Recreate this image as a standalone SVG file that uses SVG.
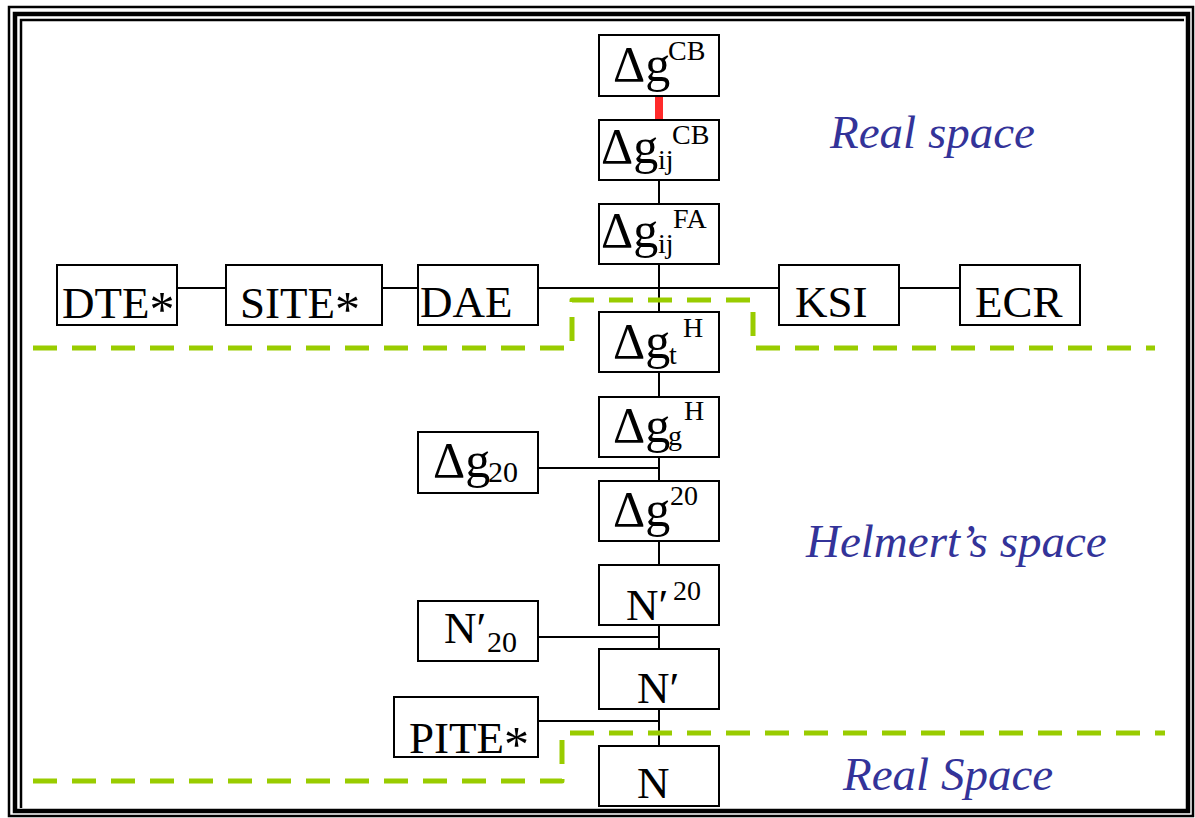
<svg xmlns="http://www.w3.org/2000/svg" width="1195" height="818" viewBox="0 0 1195 818">
<style>
.box{fill:#fff;stroke:#000;stroke-width:2}
.t{font-family:"Liberation Serif","Times New Roman",serif;font-size:45px;fill:#000}
.d{font-size:50px}
.s{font-size:28px}
.a{font-size:50px}
.c{stroke:#000;stroke-width:2;fill:none}
.g{stroke:#99cc00;stroke-width:5;fill:none;stroke-dasharray:24 15;stroke-linejoin:round}
.lab{font-family:"Liberation Serif","Times New Roman",serif;font-style:italic;font-size:47px;fill:#333399}
</style>
<rect width="1195" height="818" fill="#fff"/>
<g id="frame" fill="none" stroke="#000">
<rect x="9" y="7" width="1184" height="809" stroke-width="2.5"/>
<rect x="15" y="14" width="1173" height="797" stroke-width="4.5"/>
<path d="M21,808 V20 H1184" stroke-width="2.5"/>
</g>
<g id="connectors">
<rect x="655" y="96" width="8" height="24" fill="#ff2a2a"/>
<path class="c" d="M659,180 V204 M659,264 V312 M659,372 V397 M659,457 V481 M659,541 V565 M659,625 V649 M659,709 V746"/>
<path class="c" d="M177,288 H226 M382,288 H418 M538,288 H779 M899,288 H960"/>
<path class="c" d="M538,468 H659 M538,637 H659 M538,721 H659"/>
</g>
<g id="regions">
<path class="g" d="M33,348 H572 V300 H753 V348 H1155"/>
<path class="g" d="M33,781 H562 V733 H1165"/>
</g>
<g id="n-dgcb"><rect class="box" x="599" y="35" width="120" height="61"/><text class="t" x="613" y="81"><tspan class="d">Δg</tspan><tspan class="s" x="668" y="60">CB</tspan></text></g>
<g id="n-dgijcb"><rect class="box" x="599" y="120" width="120" height="60"/><text class="t" x="601" y="163"><tspan class="d">Δg</tspan><tspan class="s" x="658" y="169">ij</tspan><tspan class="s" x="672" y="144">CB</tspan></text></g>
<g id="n-dgijfa"><rect class="box" x="599" y="204" width="120" height="60"/><text class="t" x="601" y="247"><tspan class="d">Δg</tspan><tspan class="s" x="658" y="253">ij</tspan><tspan class="s" x="673" y="228">FA</tspan></text></g>
<g id="n-dte"><rect class="box" x="57" y="265" width="120" height="60"/><text class="t" x="62" y="318">DTE<tspan class="a" dy="8">*</tspan></text></g>
<g id="n-site"><rect class="box" x="226" y="265" width="156" height="60"/><text class="t" x="240" y="318">SITE<tspan class="a" dy="8">*</tspan></text></g>
<g id="n-dae"><rect class="box" x="418" y="265" width="120" height="60"/><text class="t" x="420" y="317">DAE</text></g>
<g id="n-ksi"><rect class="box" x="779" y="265" width="120" height="60"/><text class="t" x="795" y="317">KSI</text></g>
<g id="n-ecr"><rect class="box" x="960" y="265" width="120" height="60"/><text class="t" x="975" y="317">ECR</text></g>
<g id="n-dgth"><rect class="box" x="599" y="312" width="120" height="60"/><text class="t" x="613" y="358"><tspan class="d">Δg</tspan><tspan class="s" x="669" y="364">t</tspan><tspan class="s" x="683" y="337">H</tspan></text></g>
<g id="n-dggh"><rect class="box" x="599" y="397" width="120" height="60"/><text class="t" x="613" y="442"><tspan class="d">Δg</tspan><tspan class="s" x="668" y="445">g</tspan><tspan class="s" x="684" y="420">H</tspan></text></g>
<g id="n-dg20s"><rect class="box" x="418" y="432" width="120" height="61"/><text class="t" x="433" y="477"><tspan class="d">Δg</tspan><tspan font-size="30" x="488" y="482">20</tspan></text></g>
<g id="n-dg20"><rect class="box" x="599" y="481" width="120" height="60"/><text class="t" x="613" y="526"><tspan class="d">Δg</tspan><tspan class="s" x="670" y="505">20</tspan></text></g>
<g id="n-np20"><rect class="box" x="599" y="565" width="120" height="60"/><text class="t" x="626" y="620">N′<tspan class="s" x="673" y="600">20</tspan></text></g>
<g id="n-np20s"><rect class="box" x="418" y="601" width="120" height="60"/><text class="t" x="444" y="643">N′<tspan font-size="30" x="487" y="652">20</tspan></text></g>
<g id="n-np"><rect class="box" x="599" y="649" width="120" height="60"/><text class="t" x="637" y="703">N′</text></g>
<g id="n-pite"><rect class="box" x="394" y="697" width="144" height="60"/><text class="t" x="409" y="753">PITE<tspan class="a" dy="8">*</tspan></text></g>
<g id="n-n"><rect class="box" x="599" y="746" width="120" height="60"/><text class="t" x="637" y="798">N</text></g>
<g id="labels">
<text class="lab" x="830" y="148">Real space</text>
<text class="lab" x="806" y="557">Helmert’s space</text>
<text class="lab" x="843" y="790">Real Space</text>
</g>
</svg>
